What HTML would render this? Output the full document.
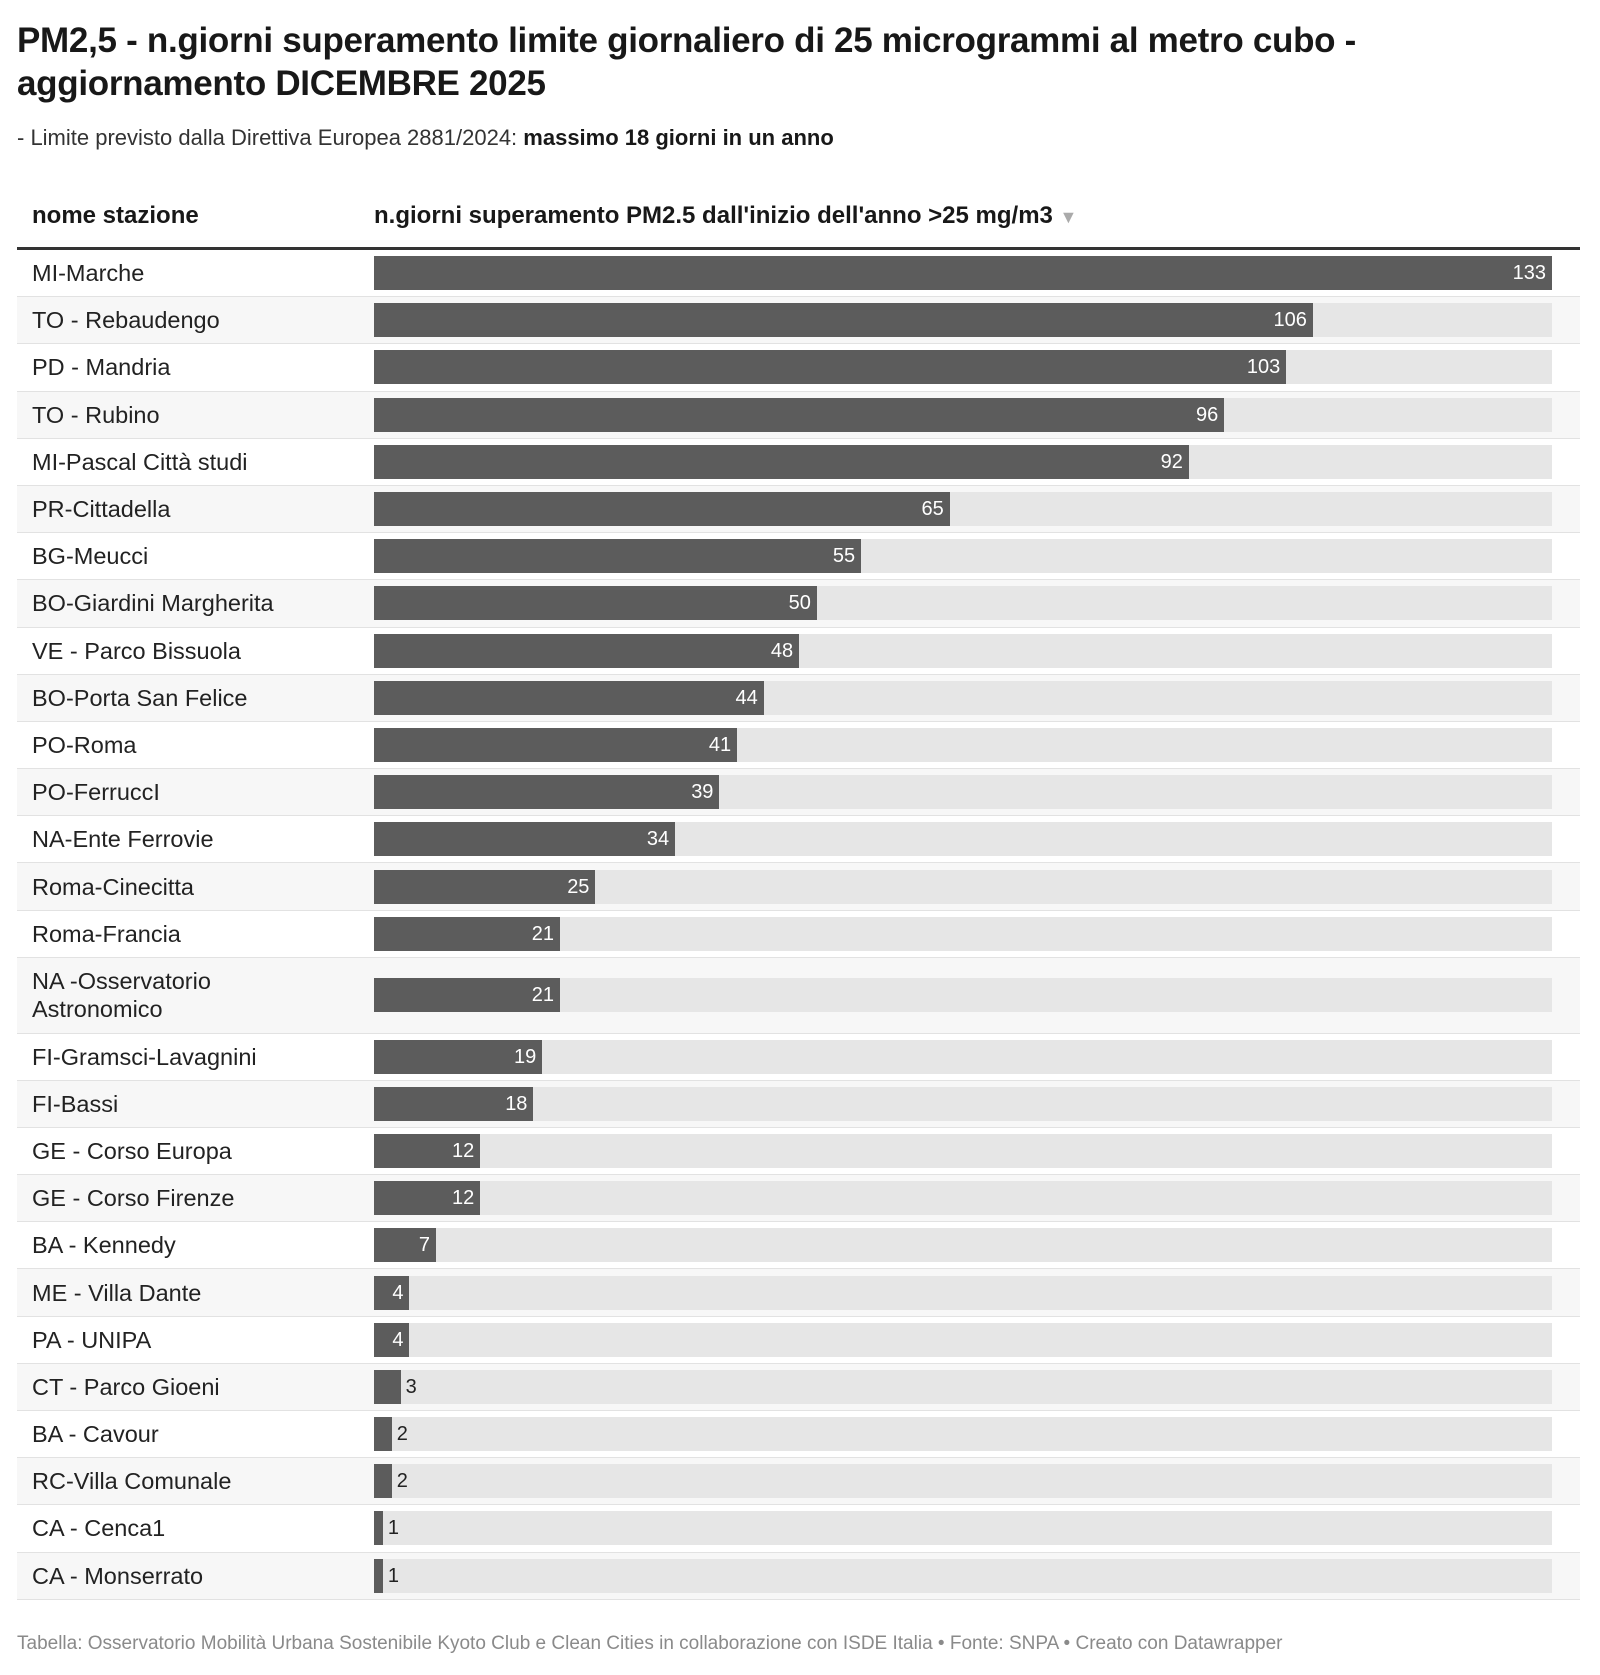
<!DOCTYPE html>
<html><head><meta charset="utf-8"><style>
*{margin:0;padding:0;box-sizing:border-box}
body{width:1600px;height:1675px;background:#fff;font-family:"Liberation Sans",sans-serif;color:#181818;position:relative;overflow:hidden}
h1{position:absolute;left:17px;top:19px;font-size:35px;line-height:43px;font-weight:bold;letter-spacing:-0.3px;width:1560px}
.sub{position:absolute;left:17px;top:125px;font-size:22px;color:#333}
.sub b{color:#181818}
.hdr{position:absolute;top:202px;font-size:24px;font-weight:bold}
.hline{position:absolute;left:17px;top:247px;width:1563px;height:3px;background:#333}
#tbl{position:absolute;left:17px;top:250px;width:1563px}
.r{position:relative;height:47.2px;border-bottom:1px solid #e2e2e2}
.r:nth-child(even){background:#f7f7f7}
.r.d{height:75.7px}
.lab{position:absolute;left:15px;top:50%;transform:translateY(-50%);font-size:23.5px;line-height:28px;color:#222}
.tr{position:absolute;left:357px;width:1178px;height:34px;top:50%;margin-top:-17px;background:#e6e6e6}
.b{position:absolute;left:0;top:0;height:34px;background:#5c5c5c}
.v{position:absolute;top:0;line-height:34px;font-size:20px;color:#fff}
.v.o{color:#222}
.foot{position:absolute;left:17px;top:1633px;font-size:19px;color:#8a8a8a}
</style></head><body>
<h1>PM2,5 - n.giorni superamento limite giornaliero di 25 microgrammi al metro cubo -<br>aggiornamento DICEMBRE 2025</h1>
<div class="sub">- Limite previsto dalla Direttiva Europea 2881/2024: <b>massimo 18 giorni in un anno</b></div>
<div class="hdr" style="left:32px">nome stazione</div>
<div class="hdr" style="left:374px">n.giorni superamento PM2.5 dall'inizio dell'anno &gt;25 mg/m3 <span style="color:#aaa;font-size:18px">▼</span></div>
<div class="hline"></div>
<div id="tbl"></div>
<div class="foot">Tabella: Osservatorio Mobilità Urbana Sostenibile Kyoto Club e Clean Cities in collaborazione con ISDE Italia • Fonte: SNPA • Creato con Datawrapper</div>
<script>
var d=[["MI-Marche",133],["TO - Rebaudengo",106],["PD - Mandria",103],["TO - Rubino",96],["MI-Pascal Città studi",92],["PR-Cittadella",65],["BG-Meucci",55],["BO-Giardini Margherita",50],["VE - Parco Bissuola",48],["BO-Porta San Felice",44],["PO-Roma",41],["PO-FerruccI",39],["NA-Ente Ferrovie",34],["Roma-Cinecitta",25],["Roma-Francia",21],["NA -Osservatorio<br>Astronomico",21],["FI-Gramsci-Lavagnini",19],["FI-Bassi",18],["GE - Corso Europa",12],["GE - Corso Firenze",12],["BA - Kennedy",7],["ME - Villa Dante",4],["PA - UNIPA",4],["CT - Parco Gioeni",3],["BA - Cavour",2],["RC-Villa Comunale",2],["CA - Cenca1",1],["CA - Monserrato",1]];
var h="";
d.forEach(function(x){var w=x[1]/133*1178;var dbl=x[0].indexOf("<br>")>=0;
var v=x[1]>=4?'<span class="v" style="right:'+(1178-w+6)+'px">'+x[1]+'</span>':'<span class="v o" style="left:'+(w+5)+'px">'+x[1]+'</span>';
h+='<div class="r'+(dbl?' d':'')+'"><div class="lab">'+x[0]+'</div><div class="tr"><div class="b" style="width:'+w+'px"></div>'+v+'</div></div>';});
document.getElementById("tbl").innerHTML=h;
</script>
</body></html>
